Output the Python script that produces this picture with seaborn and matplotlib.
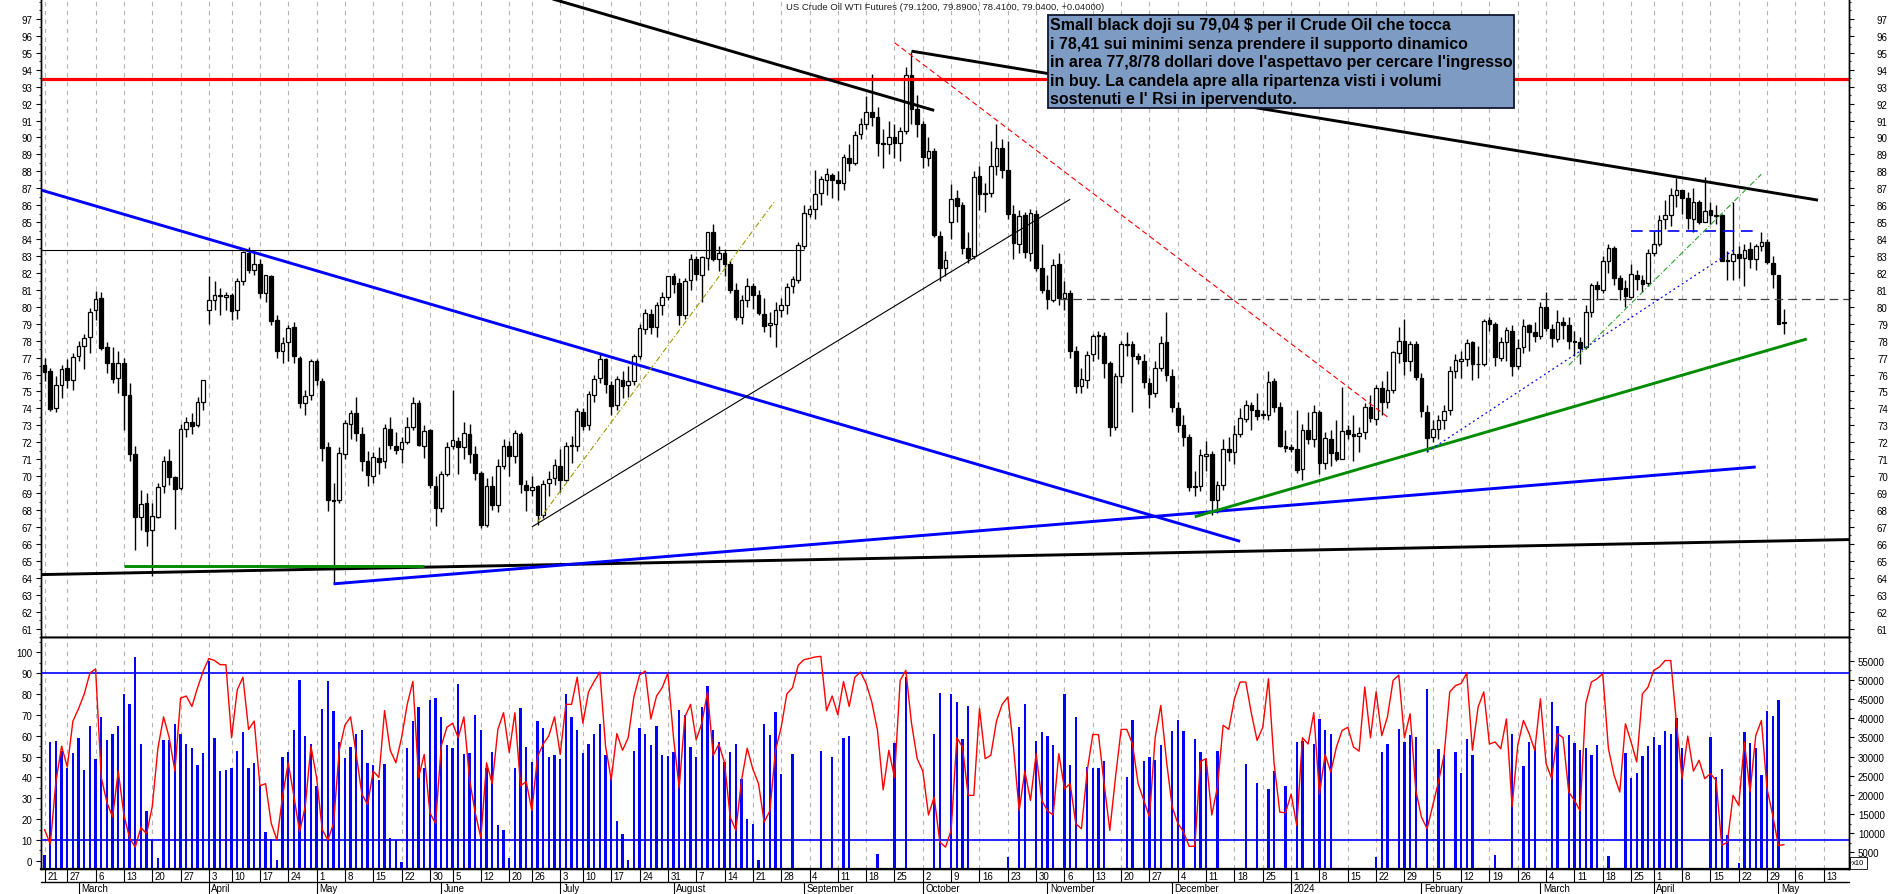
import numpy as np
import pandas as pd
import matplotlib
matplotlib.use("Agg")
import matplotlib.pyplot as plt
import matplotlib.transforms as mtrans
from matplotlib.lines import Line2D
from matplotlib.patches import Rectangle
import seaborn as sns

sns.set_theme(style="white")
plt.rcParams['font.family'] = ['Liberation Sans', 'DejaVu Sans']

# ---------------- data ----------------
TITLE = "US Crude Oil WTI Futures (79.1200, 79.8900, 78.4100, 79.0400, +0.04000)"
NOTE = ["Small black doji su 79,04 \\$ per il Crude Oil che tocca",
        "i 78,41 sui minimi senza prendere il supporto dinamico",
        "in area 77,8/78 dollari dove l'aspettavo per cercare l'ingresso",
        "in buy. La candela apre alla ripartenza visti i volumi",
        "sostenuti e l' Rsi in ipervenduto."]
FIRST_DAY = "2023-02-21"
CLOSED_DAYS = ["2023-04-07", "2023-05-29", "2023-06-19", "2023-07-04", "2024-03-29"]
MONTH_NAMES = {1: "2024", 2: "February", 3: "March", 4: "April", 5: "May", 6: "June", 7: "July",
               8: "August", 9: "September", 10: "October", 11: "November", 12: "December"}

OPEN = [76.55,76.20,74.00,75.40,76.40,75.70,77.10,77.70,78.20,79.80,
80.50,77.60,76.70,75.80,76.70,74.80,71.30,67.60,68.40,66.80,
67.60,69.40,70.90,69.96,69.30,72.80,73.20,73.00,74.40,79.80,
80.40,80.70,80.60,80.70,79.80,81.50,83.20,82.20,82.50,80.80,
81.80,79.20,77.40,77.90,78.80,77.00,74.30,74.80,76.80,75.60,
71.70,68.60,68.60,71.30,73.10,73.70,72.50,70.90,70.00,71.10,
70.90,72.80,71.80,71.60,72.00,72.90,74.30,71.80,72.70,69.40,
68.10,70.10,71.80,72.10,71.70,72.50,71.30,70.20,67.10,69.40,
68.30,70.60,71.80,71.20,72.50,69.50,69.20,69.40,67.70,69.60,
69.90,70.60,69.80,71.80,71.80,73.80,73.00,74.80,75.80,76.90,
75.40,74.20,75.70,75.40,75.60,77.10,78.70,79.60,78.80,80.10,
80.60,81.80,81.40,79.50,81.60,82.80,81.90,82.90,84.40,82.80,
83.20,82.50,81.00,79.40,80.40,81.20,80.70,79.60,78.90,79.00,
79.80,80.10,81.20,81.60,83.60,85.50,85.80,86.70,87.50,87.80,
87.50,87.30,88.80,88.50,90.20,90.80,91.50,91.20,89.70,89.60,
90.00,89.70,90.40,93.70,91.70,90.80,88.80,89.20,84.20,82.30,
85.00,86.40,86.00,83.50,83.00,87.70,86.70,86.70,88.30,89.40,
88.10,85.50,83.70,85.40,83.20,85.50,82.30,81.00,80.40,82.50,
80.50,80.80,77.40,75.30,75.70,77.20,78.30,78.30,76.70,72.90,
75.90,77.80,77.80,77.10,76.80,75.50,74.90,76.40,77.90,75.90,
74.00,73.00,72.30,69.40,69.40,71.20,71.30,68.60,69.50,71.60,
71.40,72.50,73.40,74.20,73.90,73.60,73.60,75.60,74.10,71.80,
71.70,71.60,70.40,72.70,72.20,73.80,70.80,72.20,71.40,71.00,
72.70,72.50,72.40,72.60,74.10,73.40,75.20,74.40,75.10,77.30,
78.00,76.80,77.80,75.80,73.80,72.30,72.80,73.30,73.90,76.20,
76.80,76.90,77.90,76.60,76.60,79.20,79.00,77.00,77.90,78.60,
76.50,77.60,78.90,78.50,78.30,80.00,78.70,78.10,79.10,78.90,
78.00,77.90,77.60,79.70,81.30,81.00,82.70,83.50,81.70,81.10,
80.60,81.90,81.60,81.40,83.20,83.70,85.20,85.40,86.60,86.90,
86.40,85.20,86.20,85.00,85.70,85.40,85.40,82.70,82.70,83.10,
82.90,83.40,82.80,83.60,83.80,82.60,81.90,79.12]

HIGH = [76.98,76.40,75.90,76.55,76.90,77.30,78.00,78.40,79.95,80.93,
80.90,77.90,77.60,77.40,77.00,75.50,71.80,69.20,69.00,68.40,
69.60,71.20,71.60,70.00,73.10,73.50,73.70,74.70,75.70,81.81,
81.50,81.10,80.90,80.80,81.70,83.30,83.53,83.30,82.80,81.90,
81.90,79.50,78.20,78.90,79.10,77.10,75.10,76.90,76.90,75.80,
72.00,69.60,71.70,73.30,73.90,74.70,72.90,71.50,71.40,71.70,
73.10,73.50,72.60,72.30,73.50,74.70,74.50,73.00,72.80,70.00,
70.30,72.00,75.06,72.30,73.20,73.10,71.80,70.30,69.90,70.00,
71.00,72.20,72.10,72.70,72.60,69.80,70.00,69.50,69.80,70.30,
71.00,71.60,72.00,72.40,74.00,74.00,75.00,76.00,77.30,77.00,
75.60,75.90,76.20,76.50,77.20,79.00,79.90,79.90,80.30,80.90,
81.80,82.00,81.70,81.70,83.10,83.00,83.00,84.40,84.89,83.60,
83.40,82.70,81.40,80.70,81.70,81.40,81.00,80.50,79.70,80.30,
80.50,81.40,81.80,83.80,86.00,86.00,88.08,87.70,88.20,87.90,
88.00,89.00,89.60,90.40,91.15,92.43,93.74,91.80,90.50,91.00,
90.80,90.60,94.17,95.03,92.50,91.00,90.00,89.40,84.50,83.30,
87.24,86.90,86.20,84.40,88.00,88.30,87.30,89.80,90.79,89.90,
89.80,86.00,85.70,85.60,85.80,85.70,83.70,81.90,82.80,83.20,
81.50,81.00,77.70,76.40,77.40,78.40,78.60,78.50,76.80,76.10,
78.00,78.50,78.00,77.30,77.20,75.80,76.80,78.30,79.67,76.30,
74.40,73.60,72.50,70.30,71.60,72.10,71.50,69.70,72.20,72.30,
73.00,74.00,74.50,74.40,74.90,73.90,76.20,75.80,74.40,72.70,
71.90,73.90,73.10,73.80,74.20,73.90,72.60,72.70,73.30,75.27,
73.00,73.60,72.90,74.30,74.80,75.40,75.60,76.20,77.40,78.80,
79.29,78.00,78.00,76.10,74.20,73.30,73.60,74.20,76.50,77.20,
77.40,78.10,78.00,77.70,79.30,79.40,79.10,78.20,78.80,78.90,
78.10,79.30,79.00,79.10,80.30,80.90,79.00,79.80,79.40,79.40,
78.60,78.20,80.10,81.40,81.50,83.00,83.70,83.60,81.90,81.60,
82.50,82.20,81.90,83.40,84.50,85.40,86.30,87.00,87.60,86.90,
86.80,87.00,86.30,87.67,86.20,86.00,85.50,83.30,86.20,83.60,
83.70,83.80,83.70,84.40,84.00,83.00,81.90,79.89]

LOW = [75.60,73.84,73.80,74.60,75.20,75.10,76.80,76.30,77.30,79.20,
77.45,76.10,75.50,74.90,72.70,70.90,65.65,66.80,65.85,64.12,
67.50,69.00,69.50,66.90,69.20,72.30,72.50,72.90,73.90,79.00,
79.80,79.50,79.80,79.20,79.30,81.30,82.00,81.90,80.50,80.30,
78.90,77.00,76.70,76.80,76.70,74.00,73.60,74.50,75.40,70.90,
67.93,63.64,68.40,71.00,72.20,72.10,70.30,69.40,69.60,70.10,
70.50,71.60,71.30,70.80,71.90,72.70,71.80,71.10,69.30,67.03,
67.90,70.00,71.60,70.10,71.00,70.80,69.80,66.96,67.00,68.00,
67.90,70.40,70.00,70.80,69.00,67.95,68.80,67.10,67.50,68.80,
69.50,69.04,69.70,70.80,71.50,72.70,72.70,74.40,75.50,74.90,
73.60,73.90,74.60,74.70,75.40,76.90,78.40,78.40,78.20,79.50,
80.40,80.80,78.90,79.30,81.00,81.60,80.30,82.20,82.70,82.10,
81.80,80.80,79.20,79.00,80.00,79.90,79.50,78.50,78.20,77.60,
79.40,79.60,80.80,81.40,83.40,85.30,85.20,86.00,86.60,86.40,
86.30,86.90,88.00,88.40,89.90,90.50,90.70,88.90,88.20,89.00,
88.80,88.60,90.20,90.80,90.00,88.20,88.30,84.10,81.50,81.80,
84.00,85.00,83.10,82.60,82.80,85.70,85.60,86.50,87.80,87.60,
85.20,82.80,83.20,82.90,82.70,82.10,80.80,79.90,80.30,80.10,
79.80,77.00,74.90,74.90,75.20,76.80,76.90,75.80,72.37,72.70,
75.50,77.10,73.80,76.60,75.20,74.00,74.70,76.20,75.60,73.80,
72.60,71.80,69.10,68.80,69.10,70.30,67.71,67.80,69.20,70.90,
70.70,72.30,73.20,72.70,73.30,73.40,73.30,73.80,71.70,71.40,
71.40,70.20,69.80,71.90,71.70,70.13,70.40,70.60,70.90,71.00,
72.20,70.90,71.40,72.20,73.20,73.00,73.60,74.00,74.90,76.70,
76.00,76.20,75.70,73.50,71.41,72.00,72.20,72.80,73.60,75.80,
75.80,76.50,75.70,75.80,76.50,78.60,76.50,76.80,76.80,75.90,
76.30,77.30,77.40,77.90,78.10,78.60,77.60,77.90,78.10,77.50,
77.10,76.60,77.50,79.40,80.40,80.80,82.00,81.30,80.40,80.00,
80.50,81.00,80.90,81.20,83.00,83.60,84.60,84.80,85.90,85.50,
84.60,84.40,84.90,85.00,84.90,84.90,82.70,81.60,81.60,81.70,
81.20,82.30,82.20,83.30,82.50,81.10,79.00,78.41]

CLOSE = [76.16,73.95,75.39,76.32,75.68,77.05,77.69,78.16,79.68,80.46,
77.58,76.66,75.72,76.68,74.80,71.33,67.61,68.35,66.74,67.64,
69.33,70.90,69.96,69.26,72.81,73.20,72.97,74.37,75.67,80.42,
80.71,80.61,80.70,79.74,81.53,83.26,82.16,82.52,80.83,81.86,
79.16,77.37,77.87,78.76,77.07,74.30,74.76,76.78,75.66,71.66,
68.60,68.56,71.34,73.16,73.71,72.56,70.87,70.04,71.11,70.86,
72.83,71.86,71.55,71.99,72.91,74.34,71.83,72.67,69.46,68.09,
70.10,71.74,72.15,71.74,72.53,71.29,70.17,67.12,69.42,68.27,
70.62,71.78,71.19,72.53,69.51,69.16,69.37,67.70,69.56,69.86,
70.64,69.79,71.79,71.80,73.86,72.99,74.83,75.75,76.89,75.42,
74.15,75.75,75.35,75.63,77.07,78.74,79.63,78.78,80.09,80.58,
81.80,81.37,79.49,81.55,82.82,81.94,82.92,84.40,82.82,83.19,
82.51,80.99,79.38,80.39,81.25,80.72,79.64,78.89,79.05,79.83,
80.10,81.16,81.63,83.63,85.55,85.80,86.69,87.54,87.87,87.51,
87.29,88.84,88.52,90.16,90.77,91.48,91.20,89.66,89.63,90.03,
89.68,90.39,93.68,91.71,90.79,88.82,89.23,84.22,82.31,82.79,
86.38,85.97,83.49,82.91,87.69,86.66,86.66,88.32,89.37,88.08,
85.49,83.74,85.39,83.21,85.54,82.31,81.02,80.44,82.46,80.51,
80.82,77.37,75.33,75.74,77.17,78.26,78.26,76.66,72.90,75.89,
77.83,77.77,77.10,76.90,75.54,74.86,76.41,77.86,75.96,74.07,
73.04,72.32,69.38,69.34,71.23,71.32,68.61,69.47,71.58,71.43,
72.47,73.44,74.22,73.89,73.56,73.60,75.57,74.11,71.77,71.65,
71.60,70.38,72.70,72.19,73.81,70.77,72.24,71.37,71.02,72.68,
72.50,72.40,72.56,74.08,73.41,75.19,74.37,75.09,77.36,78.01,
76.78,77.82,75.85,73.82,72.28,72.78,73.31,73.86,76.22,76.84,
76.92,77.87,76.64,76.64,79.19,79.00,77.04,77.91,78.61,76.49,
77.58,78.87,78.54,78.26,79.97,78.74,78.15,79.13,78.93,78.01,
77.93,77.56,79.72,81.26,81.04,82.72,83.47,81.68,81.07,80.63,
81.95,81.62,81.35,83.17,83.71,85.15,85.43,86.59,86.91,86.43,
85.23,86.21,85.02,85.66,85.41,85.36,82.69,82.73,83.14,82.90,
83.36,82.81,83.57,83.85,82.63,81.93,79.00,79.04]

# volume, in thousands of the displayed units (axis shows x10)
VOLUME_K = [4.2,33.7,34.0,31.5,27.1,31.0,34.8,26.6,38.1,29.3,
40.3,34.3,35.9,38.1,46.3,43.8,56.1,33.4,15.9,8.3,
3.6,34.3,34.3,38.6,35.9,33.4,32.1,27.7,31.0,55.0,
34.8,26.1,26.6,27.1,31.5,36.4,26.9,28.2,22.2,10.2,
8.5,3.1,29.9,31.2,37.0,50.1,35.4,33.4,22.2,42.5,
49.6,41.9,33.7,29.6,32.6,35.9,37.0,28.2,27.7,23.9,
28.0,8.8,8.3,2.5,32.3,39.2,43.0,26.9,44.7,45.2,
40.3,32.9,32.1,49.0,30.7,31.0,40.8,37.0,27.1,31.2,
12.1,10.7,3.6,27.1,42.7,32.6,28.5,39.2,37.5,29.9,
30.4,29.3,46.3,40.3,37.0,31.0,33.4,35.9,38.6,30.4,
24.9,13.2,9.9,3.1,31.5,37.5,35.9,32.9,38.1,30.4,
30.2,31.2,42.2,40.8,32.6,29.9,43.0,48.4,36.8,33.8,
28.5,31.2,33.2,24.2,13.7,12.4,3.1,38.5,35.5,41.6,
25.5,1,30.6,1,1,1,1,31.4,1,30.0,
1,34.9,35.4,1,1,1,1,4.5,1,1,
33.5,1,50.8,1,1,1,1,35.8,46.6,1,
46.4,44.2,34.5,43.2,1,1,1,1,1,1,
3.7,1,37.7,43.7,1,34.0,36.3,35.4,33.0,1,
46.4,27.8,40.2,1,27.2,27.0,27.0,28.8,1,1,
1,24.6,39.5,1,28.8,29.9,29.2,32.9,1,36.7,
39.5,36.6,1,34.6,31.1,29.4,1,31.4,1,1,
1,1,28.0,1,23.0,1,21.5,26.2,1,22.3,
1,33.7,34.0,1,33.2,39.7,36.8,35.9,1,1,
1,1,1,1,1,3.7,31.2,33.2,1,37.2,
33.8,35.6,35.1,1,47.5,1,31.9,30.3,1,31.1,
25.7,34.5,30.4,1,1,1,4.4,1,1,35.9,
1,27.6,33.8,32.5,1,1,44.3,37.9,1,35.5,
33.5,31.6,32.2,30.5,33.1,1,4.0,1,1,30.8,
24.3,25.7,30.2,32.7,35.1,33.0,36.7,35.9,40.0,32.2,
1,1,1,1,35.0,24.7,26.7,9.5,1,2.3,
36.3,33.5,32.2,25.2,41.8,40.7,44.7,0]

RSI = [15,8,38,55,45,67,73,80,90,92,
40,28,21,43,22,11,6.6,16,13,26,
54,69,59,43,78,79,74,83,91,97,
96,94,94,59,82,88,63,67,36,37,
18,10,31,47,31,14,26,55,40,15,
10,18,53,65,69,51,32,27,43,40,
72,53,47,59,75,86,40,51,23,18,
55,64,66,59,69,39,23,11,47,37,
63,71,52,71,36,38,24,50,56,60,
69,51,75,75,88,66,81,86,90.5,55,
39,61,53,59,78.5,89,91,68,79,83,
90,59,35,69,75,58,66,81,50.5,56,
47,21,14.6,38.6,54,44,37,18.6,24,53,
64,80,83,93.7,96.4,97,97.7,98,72,79,
70,86,74,88,90.5,85,76,62.5,34,53,
40,86.5,91.3,66,49,43,22,30.6,9,6.6,
14.6,59,54.6,31.4,31.4,73,49,50.6,67,75,
78.5,54.6,24,43,29,51.4,29,24,22,51.4,
34.6,37,17.8,15.4,43,60.6,60.5,37,14.6,40,
63,63,56,37,29,21,59,74.5,48,26,
18,14,7,7,47.7,49,22,35.4,65,63,
77.7,85.7,85.7,70.5,57.7,64,87.3,46.6,23.4,23,
32,17,59,56,71,32,51,42.6,54.6,62.5,
64,54.6,52.6,83.3,59,81,60,69,86.5,89,
59,70.5,34,21,15.4,26.6,37.8,50.6,81,84,
85,90,53,73.7,81,56,57,53.7,68,26,
55.4,67.3,61,53,77.7,46.6,39.4,61,59,33,
29,24,75.3,85.7,87.3,89.7,53.8,41,33,65.7,
57,47.4,80,83.3,91.3,92.9,96,96,66.5,39.4,
59.8,43,48.2,39.4,41.8,38.6,7.4,9,31.4,26.6,
57,33,60,67.3,34.6,21.8,7.4,7.8]

RSI_LEVELS = [90, 10]
RESISTANCE = 93.45

# drawn trend lines: (date1, price1, date2, price2)
THICK_BLACK = [("2023-06-01", 100.1, "2023-10-04", 91.6),
               ("2023-09-28", 95.1, "2024-05-10", 86.3),
               ("2023-02-16", 64.17, "2024-05-22", 66.27)]
THICK_BLUE = [("2023-02-16", 87.13, "2023-12-19", 66.15),
              ("2023-05-04", 63.64, "2024-04-25", 70.54)]
THICK_GREEN = [("2023-03-13", 64.7, "2023-05-26", 64.7),
               ("2023-12-07", 67.6, "2024-05-08", 78.1)]
THIN_BLACK = [("2023-02-16", 83.38, "2023-09-01", 83.38),
              ("2023-06-26", 67.0, "2023-11-07", 86.35)]
OLIVE_DASH = [("2023-06-27", 67.3, "2023-08-25", 86.3)]
RED_DASH = [("2023-09-25", 95.6, "2024-01-24", 73.5)]
GREY_DASH = [("2023-11-03", 80.45, "2024-05-20", 80.45)]
BLUE_DASH = [("2024-03-25", 84.5, "2024-04-25", 84.5)]
BLUE_DOT = [("2024-02-02", 71.43, "2024-04-19", 83.33)]
GREEN_DASHDOT = [("2024-03-08", 76.55, "2024-04-26", 87.83)]

# ---------------- calendar / positions ----------------
cal = pd.bdate_range("2023-02-13", "2024-05-31")
cal = cal[~cal.isin(pd.to_datetime(CLOSED_DAYS))]
i0 = cal.get_loc(pd.Timestamp(FIRST_DAY))
n = len(CLOSE)
x = np.arange(n)
def P(d):
    return float(cal.get_loc(pd.Timestamp(d)) - i0)

O = np.array(OPEN); Hh = np.array(HIGH); Lw = np.array(LOW); C = np.array(CLOSE)
VOL = np.array(VOLUME_K) * 1000.0

W, H = 1890, 895
PT = 72.0 / 100.0          # points per pixel at 100 dpi
L_PX, R_PX = 41.5, 1849.0
X0_PX, STEP = 44.6, 5.666
XMIN = (L_PX - X0_PX) / STEP
XMAX = (R_PX - X0_PX) / STEP

fig = plt.figure(figsize=(W / 100, H / 100), dpi=100)
fig.patch.set_facecolor("white")
ax = fig.add_axes([L_PX / W, 1 - 638 / H, (R_PX - L_PX) / W, 638 / H])
axv = fig.add_axes([L_PX / W, 1 - 870 / H, (R_PX - L_PX) / W, (870 - 638) / H])
axr = axv.twinx()
ax2 = ax.twinx()

for a in (ax, axv, axr, ax2):
    a.set_xlim(XMIN, XMAX)
    a.set_facecolor("none")
    a.grid(False)
    a.set_xticks([])
    for s in a.spines.values():
        s.set_color("black")
        s.set_linewidth(1.0)
ax.set_facecolor("white")
axv.set_facecolor("white")
ax.spines["top"].set_visible(False)
ax2.spines["top"].set_visible(False)
axv.spines["bottom"].set_linewidth(1.6)

MAJ = 5 * PT
MIN_ = 2.5 * PT

# price scale
YTOP = 97 + 20 / 16.97
YBOT = 97 - 618 / 16.97
for a in (ax, ax2):
    a.set_ylim(YBOT, YTOP)
    a.set_yticks(np.arange(61, 98, 1))
    a.set_yticks(np.arange(60.5, 98.2, 0.5), minor=True)
ax.tick_params(axis="y", which="major", left=True, right=False, labelleft=True, labelright=False,
               length=MAJ, width=0.8, pad=4 * PT, labelsize=7, colors="black")
ax.tick_params(axis="y", which="minor", left=True, right=False, length=MIN_, width=0.8)
ax2.tick_params(axis="y", which="major", left=False, right=True, labelleft=False, labelright=True,
                length=MAJ, width=0.8, pad=23 * PT, labelsize=7, colors="black")
ax2.tick_params(axis="y", which="minor", left=False, right=True, length=MIN_, width=0.8)

# weekly / monthly positions
days_all = cal[(cal >= pd.Timestamp(FIRST_DAY)) & (cal <= pd.Timestamp("2024-05-17"))]
wk = pd.Series(days_all, index=days_all)
iso = days_all.isocalendar()
week_first = sorted(wk.groupby([iso.year.values, iso.week.values]).min().tolist())
month_first = wk.groupby([days_all.year, days_all.month]).min()
month_first = sorted([d for d in month_first.tolist() if d > pd.Timestamp(FIRST_DAY)])

for d in week_first:
    for a in (ax, axv):
        a.axvline(P(d), color="#b4b4b4", lw=0.8, ls=(0, (4, 4)), zorder=0)

# candles
up = C >= O
bottom = np.minimum(O, C)
height = np.maximum(np.abs(C - O), 0.05)
ax.vlines(x, Lw, Hh, color="black", lw=1.0, zorder=3)
ax.bar(x[up], height[up], bottom=bottom[up], width=0.64, facecolor="white",
       edgecolor="black", linewidth=0.9, zorder=4)
ax.bar(x[~up], height[~up], bottom=bottom[~up], width=0.64, facecolor="black",
       edgecolor="black", linewidth=0.9, zorder=4)

def draw(lines, **kw):
    for d1, p1, d2, p2 in lines:
        ax.plot([P(d1), P(d2)], [p1, p2], solid_capstyle="butt", **kw)

ax.axhline(RESISTANCE, color="#ff0000", lw=2.3, zorder=5)
draw(THICK_BLACK, color="black", lw=2.1, zorder=5)
draw(THICK_BLUE, color="#0000ff", lw=2.1, zorder=5)
draw(THICK_GREEN, color="#008c00", lw=2.1, zorder=5)
draw(THIN_BLACK, color="black", lw=0.8, zorder=5)
draw(OLIVE_DASH, color="#999900", lw=0.8, ls=(0, (5, 2, 1, 2)), zorder=5)
draw(RED_DASH, color="#ff0000", lw=0.8, ls=(0, (5, 3)), zorder=5)
draw(GREY_DASH, color="#404040", lw=0.9, ls=(0, (7, 4)), zorder=5)
draw(BLUE_DASH, color="#0000ff", lw=1.2, ls=(0, (7, 4)), zorder=5)
draw(BLUE_DOT, color="#0000ff", lw=0.9, ls=(0, (1.5, 2.5)), zorder=5)
draw(GREEN_DASHDOT, color="#2e9e2e", lw=0.8, ls=(0, (5, 2, 1, 2)), zorder=5)

def py(ypx):
    return 97 - (ypx - 20) / 16.97
def px(xpx):
    return (xpx - X0_PX) / STEP

# title
ax.text(px(945), py(8), TITLE, ha="center", va="center", fontsize=6.8,
        color="#202020", zorder=7)

# note box
ax.add_patch(Rectangle((px(1048), py(109)), px(1514) - px(1048), py(16) - py(109),
                       facecolor="#7e9cc3", edgecolor="#101830", lw=1.3, zorder=8))
for k, line in enumerate(NOTE):
    ax.text(px(1050.5), py(25.5 + 18.6 * k), line, ha="left", va="center", fontweight="bold",
            fontsize=11.5, color="black", zorder=9)

# lower panel: volume (right scale) + RSI (left scale)
axv.set_ylim((872.5 - 870) / 3.832 * 1000, (872.5 - 638) / 3.832 * 1000)
axv.bar(x, VOL, width=0.4, color="#0000ff", linewidth=0, zorder=2)
axv.yaxis.tick_right()
axv.set_yticks(np.arange(5000, 55001, 5000))
axv.set_yticks(np.arange(2500, 60001, 2500), minor=True)
axv.set_yticklabels([str(v) for v in range(5000, 55001, 5000)])
axv.tick_params(axis="y", which="major", right=True, left=False, labelright=True, labelleft=False,
                length=MAJ, width=0.8, pad=4 * PT, labelsize=7, colors="black")
axv.tick_params(axis="y", which="minor", right=True, left=False, length=MIN_, width=0.8)

RS_BOT = -8.1 / 2.0875
RS_TOP = 100 + 15.2 / 2.0875
axr.set_ylim(RS_BOT, RS_TOP)
axr.yaxis.tick_left()
axr.set_yticks(np.arange(0, 101, 10))
axr.set_yticks(np.arange(0, 106, 5), minor=True)
axr.tick_params(axis="y", which="major", left=True, right=False, labelleft=True, labelright=False,
                length=MAJ, width=0.8, pad=4 * PT, labelsize=7, colors="black")
axr.tick_params(axis="y", which="minor", left=True, right=False, length=MIN_, width=0.8)
for lv in RSI_LEVELS:
    axr.axhline(lv, color="#0000ff", lw=1.2, zorder=3)
sns.lineplot(x=x, y=np.array(RSI), ax=axr, color="#ff0000", lw=1.0, zorder=4)
axr.set_xlim(XMIN, XMAX)
axr.set_xlabel(""); axr.set_ylabel("")

# x10 marker
fig.text(1852 / W, 1 - 864 / H, "x10", fontsize=5.5, ha="left", va="center", color="black")
fig.add_artist(Rectangle((1850 / W, 1 - 870 / H), 17 / W, 12 / H, transform=fig.transFigure,
                         facecolor="none", edgecolor="black", lw=0.6))

# date axis rows
tr = mtrans.blended_transform_factory(axv.transData, fig.transFigure)
y_axis = 1 - 870 / H
y_mid = 1 - 883 / H
y_bot = 1 - 895 / H
fig.add_artist(Line2D([L_PX / W, R_PX / W], [y_mid, y_mid], transform=fig.transFigure,
                      color="black", lw=1.0))
for d in week_first:
    xp = P(d)
    fig.add_artist(Line2D([xp, xp], [y_axis, y_mid], transform=tr, color="black", lw=0.8))
    fig.text(xp + 0.45, 1 - 877 / H, str(d.day), transform=tr, fontsize=7, ha="left",
             va="center", color="black")
for d in month_first:
    xp = P(d)
    fig.add_artist(Line2D([xp, xp], [y_mid, y_bot], transform=tr, color="black", lw=0.8))
    fig.text(xp + 0.45, 1 - 889.5 / H, MONTH_NAMES[d.month], transform=tr, fontsize=7,
             ha="left", va="center", color="black")

fig.savefig("out.png", dpi=100, facecolor="white")
